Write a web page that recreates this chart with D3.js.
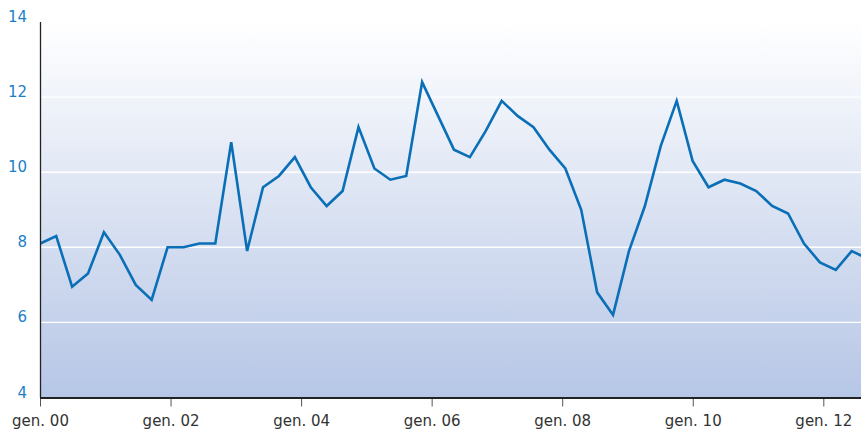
<!DOCTYPE html>
<html lang="it">
<head>
  <meta charset="utf-8">
  <title>Serie trimestrale</title>
  <script src="https://d3js.org/d3.v7.min.js"></script>
  <style>
    body { margin: 0; background: #fff; }
    .asse text { font-family: "DejaVu Sans", sans-serif; font-size: 15px; }
  </style>
</head>
<body>
  <div id="chart"></div>
  <script>
    "use strict";

    // trimestri (da gen. 00), uno per punto della serie
    var periodi = [
      "00T1","00T2","00T3","00T4","01T1","01T2","01T3","01T4",
      "02T1","02T2","02T3","02T4","03T1","03T2","03T3","03T4",
      "04T1","04T2","04T3","04T4","05T1","05T2","05T3","05T4",
      "06T1","06T2","06T3","06T4","07T1","07T2","07T3","07T4",
      "08T1","08T2","08T3","08T4","09T1","09T2","09T3","09T4",
      "10T1","10T2","10T3","10T4","11T1","11T2","11T3","11T4",
      "12T1","12T2","12T3","12T4","13T1"
    ];
    var valori = [
      8.1, 8.3, 6.95, 7.3, 8.4, 7.8, 7.0, 6.6,
      8.0, 8.0, 8.1, 8.1, 10.8, 7.9, 9.6, 9.9,
      10.4, 9.6, 9.1, 9.5, 11.2, 10.1, 9.8, 9.9,
      12.4, 11.5, 10.6, 10.4, 11.1, 11.9, 11.5, 11.2,
      10.6, 10.1, 9.0, 6.8, 6.2, 7.9, 9.1, 10.7,
      11.9, 10.3, 9.6, 9.8, 9.7, 9.5, 9.1, 8.9,
      8.1, 7.6, 7.4, 7.9, 7.7
    ];
    var anniTick = [2000, 2002, 2004, 2006, 2008, 2010, 2012];
    var yTick = [4, 6, 8, 10, 12, 14];

    var larguraSVG = 861, alturaSVG = 436;
    var area = {left: 40, right: 861, top: 22, bottom: 397.5};

    var svg = d3.select("#chart").append("svg")
      .attr("width", larguraSVG)
      .attr("height", alturaSVG);

    var defs = svg.append("defs");
    var grad = defs.append("linearGradient")
      .attr("id", "sfondo").attr("x1", 0).attr("y1", 0).attr("x2", 0).attr("y2", 1);
    grad.append("stop").attr("offset", "0%").attr("stop-color", "#ffffff");
    grad.append("stop").attr("offset", "100%").attr("stop-color", "#b6c6e6");

    var y = d3.scaleLinear().domain([4, 14]).range([area.bottom, area.top]);
    var xAnni = d3.scaleLinear().domain([2000, 2012]).range([40, 823.3]);
    var x = d3.scalePoint().domain(periodi).range([40.3, 851.7 + 15.91]);

    svg.append("rect")
      .attr("x", area.left).attr("y", area.top)
      .attr("width", area.right - area.left).attr("height", area.bottom - area.top)
      .attr("fill", "url(#sfondo)");

    // griglia orizzontale
    svg.append("g").selectAll("line")
      .data(yTick.filter(d => d > 4 && d < 14))
      .enter().append("line")
        .attr("x1", area.left).attr("x2", area.right)
        .attr("y1", d => y(d)).attr("y2", d => y(d))
        .attr("stroke", "#ffffff").attr("stroke-width", 1.4);

    // serie
    var linea = d3.line()
      .x((d, i) => x(periodi[i]))
      .y(d => y(d));
    svg.append("path")
      .datum(valori)
      .attr("d", linea)
      .attr("fill", "none")
      .attr("stroke", "#0a6fb6")
      .attr("stroke-width", 2.6)
      .attr("stroke-linejoin", "miter");

    // asse y
    var assey = svg.append("g").attr("class", "asse");
    assey.append("line")
      .attr("x1", 40.5).attr("x2", 40.5)
      .attr("y1", area.top).attr("y2", area.bottom)
      .attr("stroke", "#222").attr("stroke-width", 1.3);
    assey.selectAll("text")
      .data(yTick)
      .enter().append("text")
        .attr("x", 27).attr("y", d => y(d))
        .attr("text-anchor", "end")
        .attr("fill", "#1d7fc6")
        .text(d => d);

    // asse x
    var assex = svg.append("g")
      .attr("class", "asse")
      .attr("transform", "translate(0," + area.bottom + ")")
      .call(d3.axisBottom(xAnni)
        .tickValues(anniTick)
        .tickSize(9)
        .tickPadding(9)
        .tickFormat(d => "gen. " + String(d).slice(2)));
    assex.select(".domain").remove();
    assex.selectAll(".tick line").attr("stroke", "#555").attr("stroke-width", 1);
    assex.selectAll(".tick text").attr("fill", "#333").style("font-size", "15px");
    svg.append("line")
      .attr("x1", area.left).attr("x2", area.right)
      .attr("y1", area.bottom + 0.5).attr("y2", area.bottom + 0.5)
      .attr("stroke", "#222").attr("stroke-width", 2);
  </script>
</body>
</html>
